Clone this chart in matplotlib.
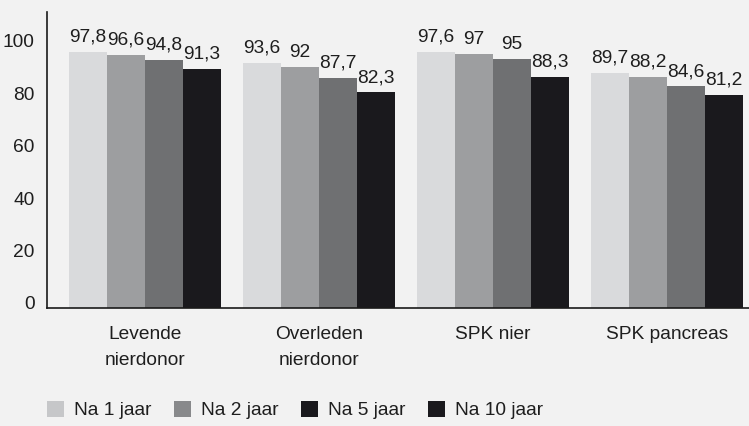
import numpy as np
import matplotlib.pyplot as plt
from matplotlib.patches import Patch
from matplotlib.transforms import ScaledTranslation

plt.rcParams['font.family'] = ['Liberation Sans', 'DejaVu Sans']

categories = ['Levende\nnierdonor', 'Overleden\nnierdonor', 'SPK nier', 'SPK pancreas']
series = ['Na 1 jaar', 'Na 2 jaar', 'Na 5 jaar', 'Na 10 jaar']
na_1_jaar = [97.8, 93.6, 97.6, 89.7]
na_2_jaar = [96.6, 92.0, 97.0, 88.2]
na_5_jaar = [94.8, 87.7, 95.0, 84.6]
na_10_jaar = [91.3, 82.3, 88.3, 81.2]
y_ticks = [0, 20, 40, 60, 80, 100]

bar_colors = ['#d9dadc', '#9d9ea0', '#6f7072', '#1a191d']
legend_colors = ['#c6c7c9', '#88898b', '#1a191d', '#1a191d']
bg = '#f2f2f2'
txt = '#1e1e1e'
fs = 13.8

fig = plt.figure(figsize=(7.49, 4.26), dpi=100, facecolor=bg)
ax = fig.add_axes([0.0628, 0.277, 0.9372, 0.695], facecolor=bg)

x = np.arange(len(categories))
w = 0.2185
values = [na_1_jaar, na_2_jaar, na_5_jaar, na_10_jaar]
for i, vals in enumerate(values):
    pos = x - 1.5 * w + i * w
    bars = ax.bar(pos, vals, width=w, color=bar_colors[i], linewidth=0)
    for b, v in zip(bars, vals):
        lab = ('%g' % v).replace('.', ',')
        ax.text(b.get_x() + b.get_width() / 2, v + 2.4, lab,
                ha='center', va='bottom', fontsize=fs, color=txt)

ax.set_xlim(-0.563, 3.471)
ax.set_ylim(0, 113)
ax.set_yticks(y_ticks)
ax.set_xticks(x)
ax.set_xticklabels(categories, fontsize=fs, color=txt, linespacing=1.7)
ax.tick_params(axis='y', length=0, pad=9, labelsize=fs, labelcolor=txt)
ax.tick_params(axis='x', length=0, pad=13)

# lift the y labels a bit above their gridline position
for lbl in ax.get_yticklabels():
    lbl.set_transform(lbl.get_transform() + ScaledTranslation(0, 5 / 100, fig.dpi_scale_trans))

for s in ['top', 'right']:
    ax.spines[s].set_visible(False)
ax.spines['left'].set_color('#1a1a1a')
ax.spines['bottom'].set_color('#1a1a1a')
ax.spines['left'].set_linewidth(1.2)
ax.spines['bottom'].set_linewidth(1.2)

handles = [Patch(facecolor=c, edgecolor='none') for c in legend_colors]
fig.legend(handles, series, loc='center left', bbox_to_anchor=(0.063, 0.0376),
           ncol=4, frameon=False, fontsize=fs, handlelength=0.9, handleheight=0.9,
           handletextpad=0.52, columnspacing=1.15, borderpad=0, borderaxespad=0,
           labelcolor=txt)

fig.savefig('out.png', dpi=100, facecolor=bg)
